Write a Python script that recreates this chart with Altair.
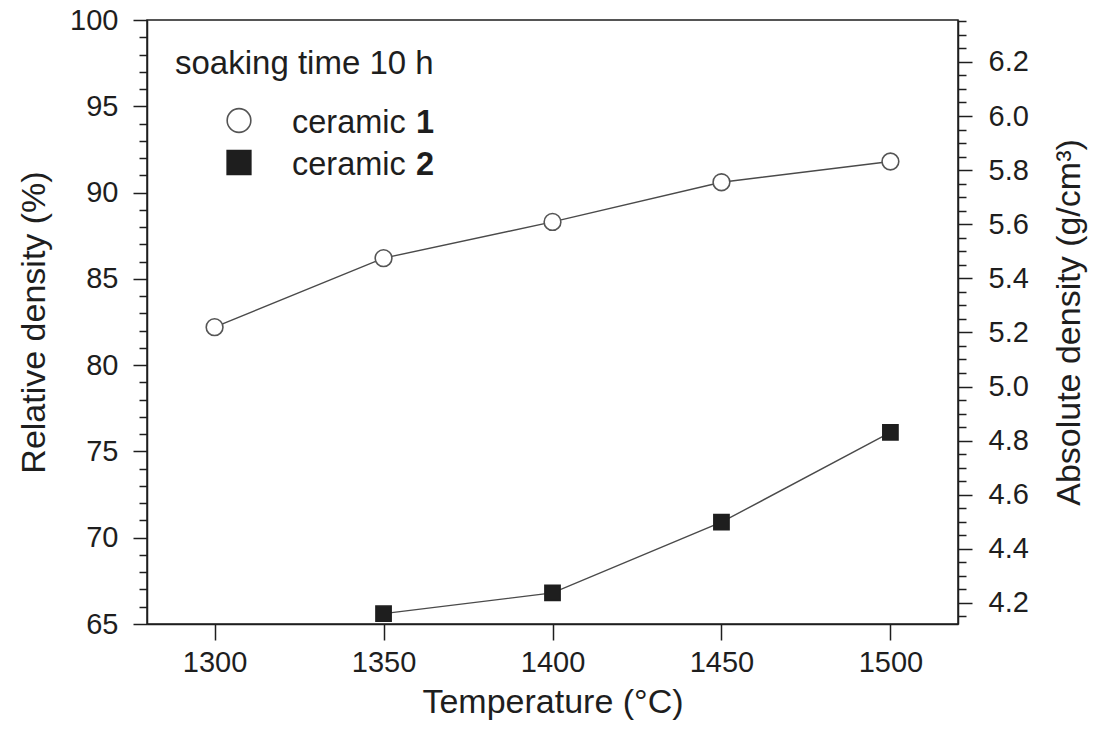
import altair as alt
import pandas as pd

# ---- data ----
temps_c1 = [1300, 1350, 1400, 1450, 1500]
rel_c1 = [82.2, 86.2, 88.3, 90.6, 91.8]
temps_c2 = [1350, 1400, 1450, 1500]
rel_c2 = [65.6, 66.8, 70.9, 76.1]

x_ticks = [1300, 1350, 1400, 1450, 1500]
left_ticks = list(range(65, 101))
right_ticks = [round(4.15 + 0.05 * i, 2) for i in range(45)]
right_domain = [4.122, 6.355]

FONT = "Liberation Sans"
INK = "#1e1e1e"

df = pd.DataFrame({
    "temp": temps_c1 + temps_c2,
    "rel": rel_c1 + rel_c2,
    "series": ["ceramic 1"] * len(temps_c1) + ["ceramic 2"] * len(temps_c2),
})
df_right = pd.DataFrame({"temp": [1300, 1300], "abs": right_domain})

series_dom = ["ceramic 1", "ceramic 2"]

common_axis = dict(
    grid=False, domainColor=INK, domainWidth=1.5, tickColor=INK, tickWidth=1.5,
    labelColor=INK, titleColor=INK, labelFont=FONT, titleFont=FONT,
    labelFontSize=29, titleFontSize=34, titleFontWeight="normal",
)

x_enc = alt.X(
    "temp:Q",
    scale=alt.Scale(domain=[1280, 1520], nice=False, zero=False),
    axis=alt.Axis(values=x_ticks, format="d", title="Temperature (°C)",
                  tickSize=16, labelPadding=8, titlePadding=8, **common_axis),
)

y_left = alt.Y(
    "rel:Q",
    scale=alt.Scale(domain=[65, 100], nice=False, zero=False),
    axis=alt.Axis(
        values=left_ticks, title="Relative density (%)",
        labelExpr="datum.value % 5 === 0 ? datum.label : ''",
        tickSize={"condition": {"test": "datum.value % 5 === 0", "value": 14}, "value": 8},
        labelPadding=15, titlePadding=18, **common_axis),
)

shape_s = alt.Shape("series:N", scale=alt.Scale(domain=series_dom, range=["circle", "square"]), legend=None)
fill_s = alt.Fill("series:N", scale=alt.Scale(domain=series_dom, range=["white", INK]), legend=None)
stroke_s = alt.Stroke("series:N", scale=alt.Scale(domain=series_dom, range=["#555555", INK]), legend=None)

lines = alt.Chart(df).mark_line(color="#4a4a4a", strokeWidth=1.4).encode(
    x=x_enc, y=y_left, detail="series:N")

points = alt.Chart(df).mark_point(strokeWidth=1.6, opacity=1).encode(
    x=x_enc, y=y_left,
    shape=shape_s, fill=fill_s, stroke=stroke_s,
    size=alt.Size("series:N", scale=alt.Scale(domain=series_dom, range=[280, 230]), legend=None),
)

right_axis = alt.Chart(df_right).mark_point(opacity=0).encode(
    x=x_enc,
    y=alt.Y(
        "abs:Q",
        scale=alt.Scale(domain=right_domain, nice=False, zero=False),
        axis=alt.Axis(
            orient="right", values=right_ticks, title="Absolute density (g/cm³)",
            labelExpr="abs(datum.value*5 - round(datum.value*5)) < 0.01 ? format(datum.value, '.1f') : ''",
            tickSize={"condition": {"test": "abs(datum.value*5 - round(datum.value*5)) < 0.01", "value": 14}, "value": 8},
            labelPadding=16, titlePadding=24, titleAngle=270, titleBaseline="top",
            **common_axis),
    ),
)

# ---- legend (drawn as annotations) ----
legend_title = alt.Chart(pd.DataFrame({"t": ["soaking time 10 h"]})).mark_text(
    font=FONT, fontSize=33, color=INK, align="left", baseline="alphabetic"
).encode(x=alt.value(28), y=alt.value(54), text="t:N")

leg_sym = alt.Chart(pd.DataFrame({"series": series_dom, "py": [100.5, 142.5]})).mark_point(
    size=560, strokeWidth=1.6, opacity=1
).encode(
    x=alt.value(92), y=alt.Y("py:Q", scale=None),
    shape=shape_s, fill=fill_s, stroke=stroke_s,
)

leg_lab = alt.Chart(pd.DataFrame({"t": ["ceramic", "ceramic"], "py": [113, 155]})).mark_text(
    font=FONT, fontSize=32.5, color=INK, align="left", baseline="alphabetic"
).encode(x=alt.value(145), y=alt.Y("py:Q", scale=None), text="t:N")

leg_num = alt.Chart(pd.DataFrame({"t": ["1", "2"], "py": [113, 155]})).mark_text(
    font=FONT, fontSize=32.5, fontWeight="bold", color=INK, align="right", baseline="alphabetic"
).encode(x=alt.value(287), y=alt.Y("py:Q", scale=None), text="t:N")

main = alt.layer(lines, points)

chart = alt.layer(main, right_axis, legend_title, leg_sym, leg_lab, leg_num).resolve_scale(
    y="independent", shape="independent", fill="independent", stroke="independent"
).properties(
    width=811, height=604,
    autosize=alt.AutoSizeParams(type="none"),
    padding={"left": 147, "top": 20, "right": 136, "bottom": 107},
    background="white",
).configure_view(stroke=INK, strokeWidth=1.5)

chart.save("out.html", embed_options={"renderer": "svg", "actions": False})
